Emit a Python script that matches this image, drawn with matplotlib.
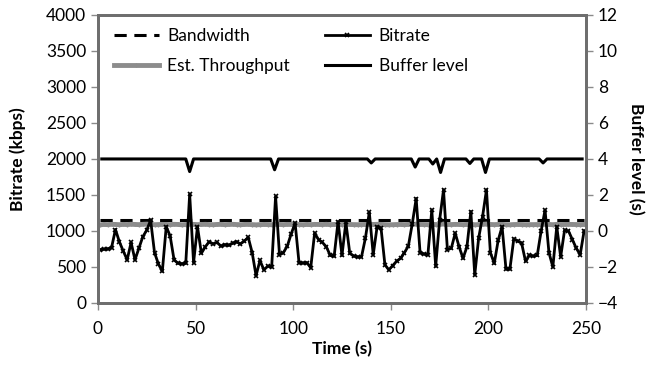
import matplotlib
matplotlib.use("Agg")
import matplotlib.pyplot as plt

plt.rcParams['font.family'] = ['Lato', 'DejaVu Sans']

# bitrate samples every 2 s
time_s = list(range(1, 250, 2))
bitrate = [740, 745, 750, 770, 1020, 850, 720, 600, 840, 600,
           760, 920, 1010, 1150, 700, 540, 440, 1060, 930, 600,
           550, 545, 550, 1510, 560, 1060, 690, 780, 850, 820,
           840, 790, 810, 800, 830, 850, 820, 860, 910, 700,
           380, 590, 460, 510, 500, 1480, 670, 700, 790, 960,
           1110, 560, 555, 560, 490, 970, 880, 840, 780, 660,
           650, 1130, 660, 1120, 690, 650, 640, 640, 900, 1260,
           670, 1060, 1040, 530, 460, 520, 580, 620, 700, 790,
           1100, 1450, 700, 680, 670, 1290, 510, 1150, 1570, 740,
           760, 970, 780, 620, 780, 1270, 390, 900, 1200, 1570,
           700, 550, 870, 1060, 470, 470, 890, 860, 830, 580,
           660, 650, 660, 1000, 1290, 700, 500, 1060, 640, 1010,
           1000, 880, 760, 670, 1000]

est_throughput = [1085, 1090, 1088, 1092, 1090, 1087, 1091, 1089, 1093, 1090,
                  1088, 1092, 1095, 1090, 1087, 1089, 1091, 1090, 1088, 1092,
                  1090, 1086, 1089, 1093, 1091, 1088, 1090, 1092, 1089, 1087,
                  1090, 1091, 1088, 1090, 1092, 1089, 1087, 1090, 1091, 1088,
                  1085, 1088, 1090, 1089, 1087, 1093, 1090, 1088, 1091, 1090,
                  1092, 1089, 1087, 1090, 1088, 1091, 1090, 1089, 1092, 1088,
                  1090, 1091, 1089, 1093, 1090, 1088, 1087, 1089, 1090, 1094,
                  1090, 1092, 1091, 1088, 1086, 1087, 1089, 1090, 1088, 1090,
                  1092, 1095, 1090, 1089, 1088, 1093, 1089, 1091, 1096, 1090,
                  1089, 1091, 1090, 1088, 1090, 1094, 1086, 1089, 1092, 1096,
                  1090, 1088, 1090, 1091, 1087, 1086, 1089, 1090, 1089, 1087,
                  1088, 1088, 1089, 1090, 1093, 1090, 1087, 1091, 1089, 1090,
                  1091, 1090, 1089, 1088, 1090]

bandwidth_time = [1, 249]
bandwidth = [1150, 1150]

buffer_time = [2, 45, 47, 49, 88.5, 90.5, 92.5, 138, 140, 142, 160.5, 162.5, 164.5,
               169.5, 171.5, 173.5, 175.5, 177.5, 188.5, 190.5, 192.5,
               196.5, 198.5, 200.5, 226, 228, 230, 248]
buffer_level = [4, 4, 3.3, 4, 4, 3.4, 4, 4, 3.78, 4, 4, 3.55, 4,
                4, 3.72, 4, 3.25, 4, 4, 3.75, 4,
                4, 3.25, 4, 4, 3.78, 4, 4]

fig = plt.figure(figsize=(6.57, 3.65), dpi=100)
ax = fig.add_axes([0.149, 0.170, 0.743, 0.789])
ax2 = ax.twinx()

h_bw, = ax.plot(bandwidth_time, bandwidth, color='black', lw=2.2, ls=(0, (4, 2.5)))
h_est, = ax.plot(time_s, est_throughput, color='#8c8c8c', lw=3.5, marker='+',
                 ms=3, mew=1)
h_br, = ax.plot(time_s, bitrate, color='black', lw=2, marker='x', ms=3, mew=1.2)
h_buf, = ax2.plot(buffer_time, buffer_level, color='black', lw=2.2)

ax.set_xlim(0, 250)
ax.set_ylim(0, 4000)
ax.set_xticks(range(0, 251, 50))
ax.set_yticks(range(0, 4001, 500))
ax2.set_ylim(-4, 12)
ax2.set_yticks(range(-4, 13, 2))

for a in (ax, ax2):
    for s in a.spines.values():
        s.set_color('#6e6e6e')
        s.set_linewidth(2)
    a.tick_params(colors='#8a8a8a', labelcolor='black', labelsize=12.5,
                  length=5, width=1)
ax.tick_params(axis='x', pad=8)

ax.set_xlabel('Time (s)', fontsize=12.5, fontweight='bold', labelpad=3)
ax.set_ylabel('Bitrate (kbps)', fontsize=12.5, fontweight='bold', labelpad=14)
ax2.set_ylabel('Buffer level (s)', fontsize=12.5, fontweight='bold',
               rotation=270, labelpad=19)

ax.legend([h_bw, h_est, h_br, h_buf],
          ['Bandwidth', 'Est. Throughput', 'Bitrate', 'Buffer level'],
          ncol=2, frameon=False, loc='upper left', bbox_to_anchor=(0.0, 1.01),
          fontsize=12.5, handlelength=2.6, columnspacing=2.0, numpoints=1,
          labelspacing=0.8, handletextpad=0.5)

fig.savefig('out.png', dpi=100)
